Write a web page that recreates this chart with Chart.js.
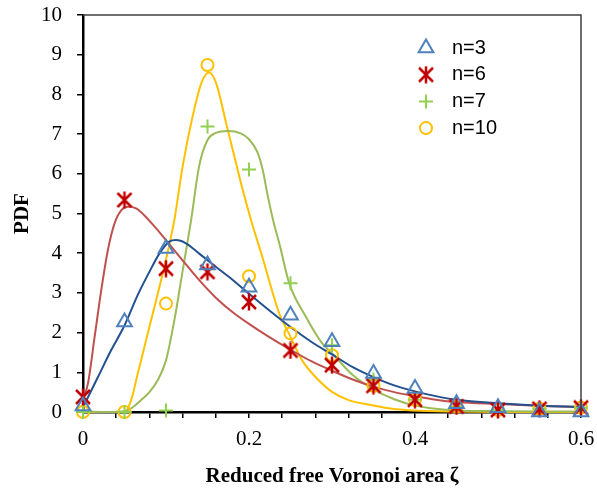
<!DOCTYPE html>
<html>
<head>
<meta charset="utf-8">
<script src="https://cdn.jsdelivr.net/npm/chart.js@4.4.0/dist/chart.umd.min.js"></script>
<style>
  body { margin: 0; background: #fff; }
  canvas { display: block; }
</style>
</head>
<body>
<canvas id="myChart" width="597" height="492"></canvas>
<script>
// measured PDF values (markers)
var zeta = [0, 0.05, 0.1, 0.15, 0.2, 0.25, 0.3, 0.35, 0.4, 0.45, 0.5, 0.55, 0.6];
var pdfN3 = [0.15, 2.27, 4.12, 3.7, 3.14, 2.44, 1.77, 0.97, 0.59, 0.21, 0.11, 0, 0];
var pdfN6 = [0.38, 5.34, 3.61, 3.53, 2.77, 1.55, 1.18, 0.66, 0.31, 0.14, 0.05, 0.08, 0.11];
var pdfN7 = [0, 0, 0.04, 7.19, 6.11, 3.24, 1.68, 0.82, 0.31, 0.14, 0.05, 0.08, 0.11];
var pdfN10 = [0, 0, 2.73, 8.74, 3.42, 1.98, 1.43, 0.66, 0.31, 0.14, 0.05, 0.08, 0.11];

// fitted curves
var fitZeta3 = [0, 0.018, 0.034, 0.05, 0.066, 0.08, 0.092, 0.104, 0.112, 0.124, 0.14, 0.16, 0.176, 0.2, 0.225, 0.25, 0.275, 0.3, 0.325, 0.35, 0.375, 0.4, 0.425, 0.45, 0.5, 0.55, 0.6];
var fitPdf3 = [0.12, 0.88, 1.56, 2.18, 2.95, 3.53, 3.99, 4.29, 4.33, 4.25, 3.99, 3.66, 3.4, 2.98, 2.55, 2.14, 1.77, 1.45, 1.13, 0.88, 0.67, 0.52, 0.4, 0.31, 0.22, 0.16, 0.13];

var fitZeta6 = [0, 0.006, 0.014, 0.022, 0.03, 0.038, 0.046, 0.054, 0.064, 0.074, 0.085, 0.1, 0.12, 0.14, 0.16, 0.18, 0.2, 0.225, 0.25, 0.275, 0.3, 0.325, 0.35, 0.375, 0.4, 0.425, 0.45, 0.5, 0.55, 0.6];
var fitPdf6 = [0.3, 0.72, 1.89, 3.07, 4.08, 4.75, 5.08, 5.17, 5.13, 4.95, 4.7, 4.33, 3.82, 3.32, 2.88, 2.52, 2.22, 1.88, 1.57, 1.28, 1.04, 0.82, 0.64, 0.5, 0.4, 0.31, 0.25, 0.2, 0.16, 0.12];

var fitZeta7 = [0, 0.025, 0.05, 0.06, 0.07, 0.08, 0.09, 0.1, 0.11, 0.12, 0.13, 0.14, 0.15, 0.16, 0.175, 0.19, 0.2, 0.21, 0.2165, 0.2225, 0.23, 0.2365, 0.2485, 0.2685, 0.2885, 0.3, 0.325, 0.35, 0.375, 0.4, 0.425, 0.45, 0.5, 0.6];
var fitPdf7 = [0.02, 0, 0.02, 0.12, 0.3, 0.5, 0.8, 1.3, 2.3, 3.55, 4.8, 6.2, 6.85, 7.03, 7.08, 7.02, 6.87, 6.55, 6.1, 5.45, 4.75, 4.25, 3.24, 2.4, 1.72, 1.48, 0.93, 0.57, 0.32, 0.16, 0.08, 0.04, 0.02, 0.01];

var fitZeta10 = [0, 0.05, 0.058, 0.066, 0.082, 0.098, 0.11, 0.12, 0.132, 0.1425, 0.1517, 0.1605, 0.1725, 0.1845, 0.1925, 0.2025, 0.216, 0.2365, 0.248, 0.264, 0.284, 0.3005, 0.32, 0.3485, 0.3725, 0.3965, 0.45, 0.5, 0.6];
var fitPdf10 = [0, 0, 0.3, 0.97, 2.31, 3.66, 4.83, 6.18, 7.44, 8.28, 8.55, 8.28, 7.27, 6.26, 5.59, 4.83, 3.91, 2.48, 1.98, 1.3, 0.8, 0.5, 0.3, 0.17, 0.08, 0.04, 0.01, 0, 0];

var seriesNames = ['n=3', 'n=6', 'n=7', 'n=10'];
var markerColors = ['#4F81BD', '#C00000', '#92D050', '#FFC000'];
var curveColors = ['#23508F', '#C0504D', '#9BBB59', '#FFC000'];

function pairs(xs, ys) {
  return xs.map(function (x, i) { return { x: x, y: ys[i] }; });
}

// Excel-style "star" marker: an X with a vertical bar
function starMarker(color) {
  var c = document.createElement('canvas');
  c.width = 18; c.height = 18;
  var g = c.getContext('2d');
  g.strokeStyle = color;
  g.lineWidth = 2.5;
  g.beginPath();
  g.moveTo(2, 2); g.lineTo(16, 16);
  g.moveTo(16, 2); g.lineTo(2, 16);
  g.moveTo(9, 0.5); g.lineTo(9, 17.5);
  g.stroke();
  return c;
}
var star = starMarker(markerColors[1]);

var pointStyles = ['triangle', star, 'cross', 'circle'];
var pointSizes = [8.5, 9, 7, 6];
var markerData = [pdfN3, pdfN6, pdfN7, pdfN10];
var curveX = [fitZeta3, fitZeta6, fitZeta7, fitZeta10];
var curveY = [fitPdf3, fitPdf6, fitPdf7, fitPdf10];

var datasets = [];
for (var i = 0; i < 4; i++) {
  datasets.push({
    label: seriesNames[i],
    data: pairs(zeta, markerData[i]),
    showLine: false,
    pointStyle: pointStyles[i],
    pointRadius: pointSizes[i],
    pointBorderColor: markerColors[i],
    pointBackgroundColor: 'rgba(0,0,0,0)',
    pointBorderWidth: 2,
    clip: false,
    order: 0
  });
}
for (var j = 0; j < 4; j++) {
  datasets.push({
    label: seriesNames[j] + ' fit',
    data: pairs(curveX[j], curveY[j]),
    showLine: true,
    borderColor: curveColors[j],
    borderWidth: 2,
    pointRadius: 0,
    cubicInterpolationMode: 'monotone',
    clip: false,
    order: 1
  });
}

// frame on top/right and the legend inside the plot
var framePlugin = {
  id: 'frameAndLegend',
  afterDraw: function (chart) {
    var ctx = chart.ctx;
    var a = chart.chartArea;
    ctx.save();
    ctx.strokeStyle = '#404040';
    ctx.lineWidth = 1.5;
    ctx.beginPath();
    ctx.moveTo(a.left, a.top);
    ctx.lineTo(a.right, a.top);
    ctx.lineTo(a.right, a.bottom);
    ctx.stroke();

    var mx = a.left + 343, tx = a.left + 369, y0 = a.top + 33, dy = 26.7;
    ctx.font = '20px "Liberation Sans"';
    ctx.textBaseline = 'middle';
    ctx.fillStyle = '#000';
    for (var k = 0; k < 4; k++) {
      var y = y0 + k * dy;
      ctx.strokeStyle = markerColors[k];
      ctx.lineWidth = 2;
      ctx.beginPath();
      if (k === 0) {
        var r = pointSizes[0];
        ctx.moveTo(mx, y - r);
        ctx.lineTo(mx + r * 0.866, y + r / 2);
        ctx.lineTo(mx - r * 0.866, y + r / 2);
        ctx.closePath();
        ctx.stroke();
      } else if (k === 1) {
        ctx.drawImage(star, mx - 9, y - 9);
      } else if (k === 2) {
        ctx.moveTo(mx - 7, y); ctx.lineTo(mx + 7, y);
        ctx.moveTo(mx, y - 7); ctx.lineTo(mx, y + 7);
        ctx.stroke();
      } else {
        ctx.arc(mx, y, pointSizes[3], 0, Math.PI * 2);
        ctx.stroke();
      }
      ctx.fillText(seriesNames[k], tx, y);
    }
    ctx.restore();
  }
};

var ctx = document.getElementById('myChart');
new Chart(ctx, {
  type: 'scatter',
  data: { datasets: datasets },
  options: {
    responsive: false,
    animation: false,
    devicePixelRatio: 1,
    layout: { padding: { left: 0, top: 15, right: 16, bottom: 0 } },
    plugins: {
      legend: { display: false },
      tooltip: { enabled: false }
    },
    scales: {
      x: {
        type: 'linear',
        min: 0,
        max: 0.6,
        afterFit: function (scale) {
          scale.height = 80;
          scale.paddingLeft = 0;
          scale.paddingRight = 0;
        },
        border: { color: '#000', width: 2.5 },
        grid: { drawOnChartArea: false, drawTicks: true, tickLength: 6, color: '#000', lineWidth: 1.5 },
        ticks: {
          stepSize: 0.04,
          autoSkip: false,
          maxRotation: 0,
          padding: 9,
          color: '#000',
          font: { family: '"Liberation Serif"', size: 21 },
          callback: function (v) {
            var h = Math.round(v * 100);
            return h % 20 === 0 ? String(h / 100) : '';
          }
        },
        title: {
          display: true,
          text: 'Reduced free Voronoi area ζ',
          color: '#000',
          font: { family: '"Liberation Serif"', size: 21, weight: 'bold' },
          padding: { top: 0, bottom: 3 }
        }
      },
      y: {
        min: 0,
        max: 10,
        afterFit: function (scale) {
          scale.width = 83;
          scale.paddingTop = 0;
          scale.paddingBottom = 0;
        },
        border: { color: '#000', width: 2.5 },
        grid: { drawOnChartArea: false, drawTicks: true, tickLength: 6, color: '#000', lineWidth: 1.5 },
        ticks: {
          stepSize: 1,
          padding: 15,
          color: '#000',
          font: { family: '"Liberation Serif"', size: 21 }
        },
        title: {
          display: true,
          text: 'PDF',
          color: '#000',
          font: { family: '"Liberation Serif"', size: 21, weight: 'bold' },
          padding: { top: 10, bottom: 0 }
        }
      }
    }
  },
  plugins: [framePlugin]
});
</script>
</body>
</html>
